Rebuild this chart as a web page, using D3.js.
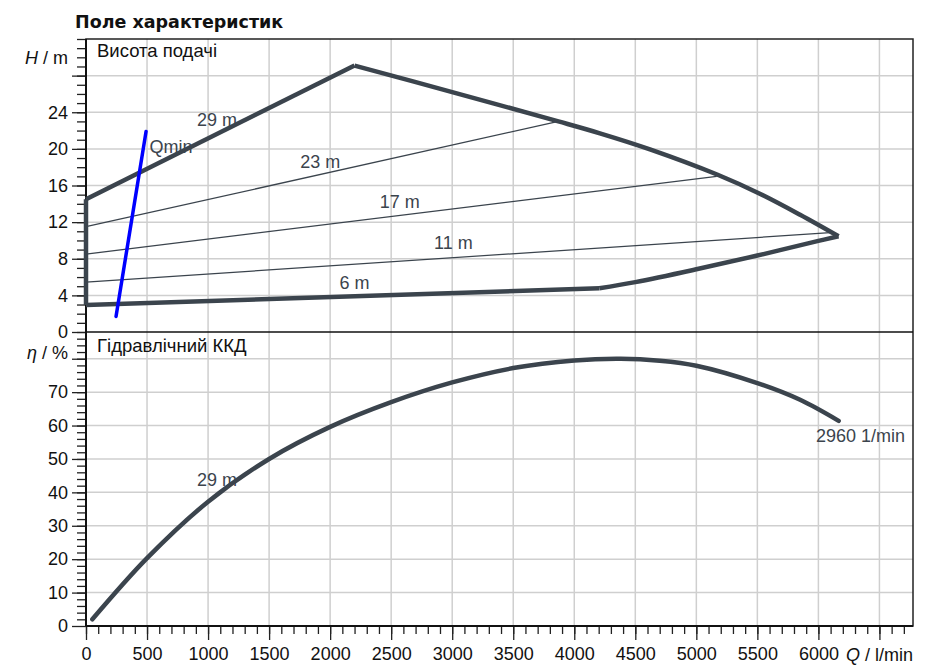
<!DOCTYPE html>
<html>
<head>
<meta charset="utf-8">
<script src="https://cdn.jsdelivr.net/npm/d3@7"></script>
<style>
  body { margin: 0; background: #fff; }
  text { font-family: "Liberation Sans", Arial, sans-serif; }
  text.title { font-family: "DejaVu Sans", Verdana, sans-serif; font-weight: bold; }
</style>
</head>
<body>
<div id="chart"></div>
<script>
// data
const qTickLabels = [0, 500, 1000, 1500, 2000, 2500, 3000, 3500, 4000, 4500, 5000, 5500, 6000];
const hTickLabels = [0, 4, 8, 12, 16, 20, 24];
const etaTickLabels = [0, 10, 20, 30, 40, 50, 60, 70];

// outer boundary of the head field (29 m curve, max curve, 6 m curve)
const topLeftQ = [0, 2200];
const topLeftH = [14.5, 29.1];
const topRightQ = [2200, 3000, 3870, 4210, 4620, 5170, 5520, 5850, 6165];
const topRightH = [29.1, 26.2, 23.0, 21.7, 19.95, 17.2, 15.1, 12.8, 10.45];
const bottomRightQ = [4205, 4500, 5000, 5500, 6000, 6165];
const bottomRightH = [4.78, 5.45, 6.85, 8.35, 9.95, 10.45];
const bottomLeftQ = [0, 4205];
const bottomLeftH = [2.95, 4.78];

// thin iso-lines of the head field
const isoNames = ['23 m', '17 m', '11 m'];
const isoQ = [[0, 3870], [0, 5167], [0, 6096]];
const isoH = [[11.5, 23.0], [8.5, 17.0], [5.45, 10.85]];

// Qmin line
const qminQ = [246, 492];
const qminH = [1.7, 21.9];

// hydraulic efficiency
const etaQ = [52, 500, 1000, 1500, 2000, 2500, 3000, 3500, 4000, 4380, 4700, 5000, 5500, 5850, 6166];
const etaV = [2.0, 20.3, 37.2, 50.0, 59.6, 67.0, 72.9, 77.2, 79.5, 80.0, 79.4, 77.9, 72.7, 67.7, 61.4];

// label anchors in data units
const headLabels = [
  {t: '29 m', q: 1073, h: 23.1},
  {t: '23 m', q: 1920, h: 18.6},
  {t: '17 m', q: 2570, h: 14.2},
  {t: '11 m', q: 3010, h: 9.7},
  {t: '6 m', q: 2200, h: 5.3}
];

let svgWidth = 934;
let svgHeight = 669;
let plot = {left: 86, right: 913, top: 39, mid: 332, bottom: 626};
let ink = '#3b444d';

let svg = d3.select('#chart').append('svg')
  .attr('width', svgWidth)
  .attr('height', svgHeight);

let x = d3.scaleLinear().domain([0, 6775]).range([plot.left, plot.right]);
let yH = d3.scaleLinear().domain([0, 32]).range([plot.mid, plot.top]);
let yE = d3.scaleLinear().domain([0, 88]).range([plot.bottom, plot.mid]);

// grid
let grid = svg.append('g').attr('stroke', '#cfcfcf').attr('stroke-width', 1.5);
grid.selectAll('.vx').data(d3.range(500, 6775, 500)).enter().append('line')
  .attr('x1', d => x(d)).attr('x2', d => x(d))
  .attr('y1', plot.top).attr('y2', plot.bottom);
grid.selectAll('.hh').data(d3.range(4, 32, 4)).enter().append('line')
  .attr('x1', plot.left).attr('x2', plot.right)
  .attr('y1', d => yH(d)).attr('y2', d => yH(d));
grid.selectAll('.he').data(d3.range(10, 88, 10)).enter().append('line')
  .attr('x1', plot.left).attr('x2', plot.right)
  .attr('y1', d => yE(d)).attr('y2', d => yE(d));

// frame
svg.append('rect')
  .attr('x', plot.left).attr('y', plot.top)
  .attr('width', plot.right - plot.left).attr('height', plot.bottom - plot.top)
  .attr('fill', 'none').attr('stroke', '#222').attr('stroke-width', 1.5);
svg.append('line')
  .attr('x1', plot.left).attr('x2', plot.right)
  .attr('y1', plot.mid).attr('y2', plot.mid)
  .attr('stroke', '#111').attr('stroke-width', 1.5);

// axes
function styleAxis(g) {
  g.select('.domain').remove();
  g.selectAll('.tick line').attr('stroke', '#222').attr('stroke-width', 1.3);
  g.selectAll('.tick text').attr('font-size', 18).attr('fill', '#111');
}

svg.append('g').attr('transform', `translate(0,${plot.bottom})`)
  .call(d3.axisBottom(x).tickValues(d3.range(0, 6775, 100)).tickSize(8).tickFormat(''))
  .call(styleAxis);
svg.append('g').attr('transform', `translate(0,${plot.bottom})`)
  .call(d3.axisBottom(x).tickValues(qTickLabels.concat([6500])).tickSize(14)
    .tickFormat(d => d === 6500 ? '' : d).tickPadding(7))
  .call(styleAxis);

svg.append('g').attr('transform', `translate(${plot.left},0)`)
  .call(d3.axisLeft(yH).tickValues(d3.range(0, 33, 1)).tickSize(9).tickFormat(''))
  .call(styleAxis);
svg.append('g').attr('transform', `translate(${plot.left},0)`)
  .call(d3.axisLeft(yH).tickValues(hTickLabels.concat([28])).tickSize(14)
    .tickFormat(d => d === 28 ? '' : d).tickPadding(4))
  .call(styleAxis);

svg.append('g').attr('transform', `translate(${plot.left},0)`)
  .call(d3.axisLeft(yE).tickValues(d3.range(2, 88, 2)).tickSize(9).tickFormat(''))
  .call(styleAxis);
svg.append('g').attr('transform', `translate(${plot.left},0)`)
  .call(d3.axisLeft(yE).tickValues(etaTickLabels.concat([80])).tickSize(14)
    .tickFormat(d => d === 80 ? '' : d).tickPadding(4))
  .call(styleAxis);

svg.append('line')
  .attr('x1', plot.left).attr('x2', plot.left)
  .attr('y1', plot.top).attr('y2', plot.bottom)
  .attr('stroke', '#111').attr('stroke-width', 2);
svg.append('line')
  .attr('x1', plot.left).attr('x2', plot.right)
  .attr('y1', plot.bottom).attr('y2', plot.bottom)
  .attr('stroke', '#111').attr('stroke-width', 2);

// head field
let zip = (a, b) => a.map((v, i) => [v, b[i]]);
let lineH = d3.line().x(d => x(d[0])).y(d => yH(d[1]));
let curveH = d3.line().x(d => x(d[0])).y(d => yH(d[1])).curve(d3.curveCatmullRom.alpha(0.5));

let field = svg.append('g').attr('fill', 'none').attr('stroke', ink).attr('stroke-linejoin', 'round');

isoQ.forEach((qs, i) => {
  field.append('path').attr('d', lineH(zip(qs, isoH[i]))).attr('stroke-width', 1.3);
});

field.append('path').attr('d', lineH(zip(topLeftQ, topLeftH))).attr('stroke-width', 4.5);
field.append('path').attr('d', curveH(zip(topRightQ, topRightH))).attr('stroke-width', 4.5);
field.append('path').attr('d', curveH(zip(bottomRightQ, bottomRightH))).attr('stroke-width', 4.5);
field.append('path').attr('d', lineH(zip(bottomLeftQ, bottomLeftH))).attr('stroke-width', 4.5);
field.append('path').attr('d', lineH([[0, bottomLeftH[0]], [0, topLeftH[0]]])).attr('stroke-width', 4.5);

svg.append('path')
  .attr('d', lineH(zip(qminQ, qminH)))
  .attr('fill', 'none').attr('stroke', '#0000ff').attr('stroke-width', 3.5)
  .attr('stroke-linecap', 'round');

// efficiency
svg.append('path')
  .attr('d', d3.line().x(d => x(d[0])).y(d => yE(d[1])).curve(d3.curveCatmullRom.alpha(0.5))(zip(etaQ, etaV)))
  .attr('fill', 'none').attr('stroke', ink).attr('stroke-width', 4.5)
  .attr('stroke-linecap', 'round');

// labels
let labels = svg.append('g').attr('font-size', 18).attr('fill', ink);
headLabels.forEach(l => {
  labels.append('text').attr('x', x(l.q)).attr('y', yH(l.h))
    .attr('text-anchor', 'middle').attr('dominant-baseline', 'central').text(l.t);
});
labels.append('text').attr('x', x(520)).attr('y', yH(20.2))
  .attr('dominant-baseline', 'central').text('Qmin');
labels.append('text').attr('x', x(1073)).attr('y', yE(43.6))
  .attr('text-anchor', 'middle').attr('dominant-baseline', 'central').text('29 m');
labels.append('text').attr('x', plot.right - 8).attr('y', yE(57.0))
  .attr('text-anchor', 'end').attr('dominant-baseline', 'central').text('2960 1/min');

svg.append('text').attr('x', 97).attr('y', 50).attr('dominant-baseline', 'central')
  .attr('font-size', 18.5).attr('fill', '#111').text('Висота подачі');
svg.append('text').attr('x', 97).attr('y', 345).attr('dominant-baseline', 'central')
  .attr('font-size', 18.5).attr('fill', '#111').text('Гідравлічний ККД');

// axis titles
let hTitle = svg.append('text').attr('x', 68).attr('y', 58).attr('text-anchor', 'end')
  .attr('dominant-baseline', 'central').attr('font-size', 18).attr('fill', '#111');
hTitle.append('tspan').attr('font-style', 'italic').text('H');
hTitle.append('tspan').text(' /  m');

let eTitle = svg.append('text').attr('x', 68).attr('y', 353).attr('text-anchor', 'end')
  .attr('dominant-baseline', 'central').attr('font-size', 18).attr('fill', '#111');
eTitle.append('tspan').attr('font-style', 'italic').text('η');
eTitle.append('tspan').text(' /  %');

let qTitle = svg.append('text').attr('x', 913).attr('y', 655).attr('text-anchor', 'end')
  .attr('dominant-baseline', 'central').attr('font-size', 18).attr('fill', '#111');
qTitle.append('tspan').attr('font-style', 'italic').text('Q');
qTitle.append('tspan').text(' / l/min');

svg.append('text').attr('class', 'title').attr('x', 75).attr('y', 28)
  .attr('font-size', 17.5).attr('fill', '#111')
  .text('Поле характеристик');
</script>
</body>
</html>
